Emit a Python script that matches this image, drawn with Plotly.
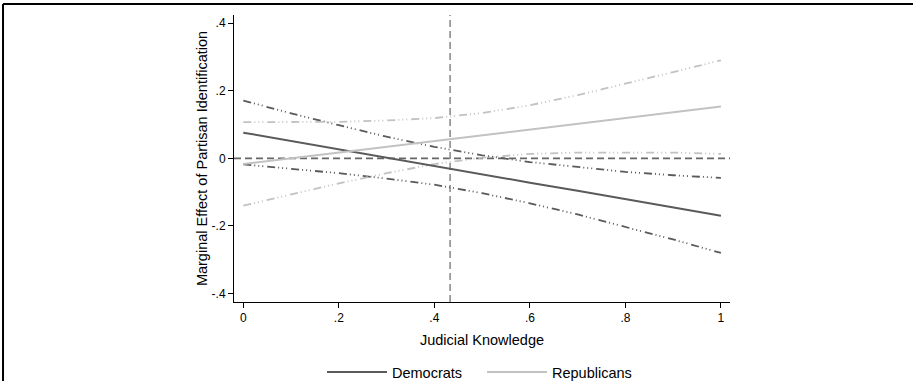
import plotly.graph_objects as go

# Judicial knowledge grid
knowledge = [0.0, 0.1, 0.2, 0.3, 0.4, 0.5, 0.6, 0.7, 0.8, 0.9, 1.0]

# Marginal effects
dem_est = [0.076, 0.051, 0.027, 0.002, -0.022, -0.047, -0.072, -0.096, -0.121, -0.145, -0.170]
dem_upper = [0.171, 0.133, 0.098, 0.064, 0.034, 0.009, -0.011, -0.026, -0.040, -0.050, -0.058]
dem_lower = [-0.018, -0.031, -0.044, -0.060, -0.078, -0.103, -0.133, -0.166, -0.202, -0.240, -0.280]

rep_est = [-0.017, 0.000, 0.017, 0.034, 0.051, 0.068, 0.085, 0.102, 0.119, 0.136, 0.153]
rep_upper = [0.107, 0.107, 0.108, 0.112, 0.119, 0.134, 0.157, 0.187, 0.220, 0.255, 0.290]
rep_lower = [-0.140, -0.107, -0.074, -0.044, -0.017, 0.002, 0.013, 0.017, 0.018, 0.017, 0.013]

mean_knowledge = 0.433

x_ticks = [0, 0.2, 0.4, 0.6, 0.8, 1]
x_tick_labels = ["0", ".2", ".4", ".6", ".8", "1"]
y_ticks = [-0.4, -0.2, 0, 0.2, 0.4]
y_tick_labels = ["-.4", "-.2", "0", ".2", ".4"]

DEM = "#5a5a5a"
REP = "#c2c2c2"
ci_dash = "8px,3px,1px,3px,1px,3px,1px,4px"

fig = go.Figure()

fig.add_trace(go.Scatter(x=knowledge, y=dem_upper, mode="lines", showlegend=False,
                         line=dict(color=DEM, width=1.8, dash=ci_dash)))
fig.add_trace(go.Scatter(x=knowledge, y=dem_lower, mode="lines", showlegend=False,
                         line=dict(color=DEM, width=1.8, dash=ci_dash)))
fig.add_trace(go.Scatter(x=knowledge, y=rep_upper, mode="lines", showlegend=False,
                         line=dict(color=REP, width=1.8, dash=ci_dash)))
fig.add_trace(go.Scatter(x=knowledge, y=rep_lower, mode="lines", showlegend=False,
                         line=dict(color=REP, width=1.8, dash=ci_dash)))
fig.add_trace(go.Scatter(x=knowledge, y=dem_est, mode="lines", name="Democrats",
                         line=dict(color=DEM, width=2)))
fig.add_trace(go.Scatter(x=knowledge, y=rep_est, mode="lines", name="Republicans",
                         line=dict(color=REP, width=2)))

font = dict(family="Arial, Liberation Sans, sans-serif", color="black")

fig.update_layout(
    width=913, height=383,
    margin=dict(l=234, r=183, t=15, b=81, autoexpand=False),
    paper_bgcolor="white", plot_bgcolor="white",
    font=dict(size=12, **font),
    showlegend=True,
    legend=dict(orientation="h", x=0.5, xanchor="center", y=-0.244, yanchor="middle",
                font=dict(size=14.5, **font), traceorder="normal",
                itemwidth=60, entrywidth=85),
    xaxis=dict(range=[-0.0195, 1.019], tickvals=x_ticks, ticktext=x_tick_labels,
               showgrid=False, zeroline=False, showline=True, linecolor="black", linewidth=1,
               ticks="outside", ticklen=5, tickcolor="black", tickfont=dict(size=12, **font),
               title=dict(text="Judicial Knowledge", font=dict(size=14.5, **font), standoff=10)),
    yaxis=dict(range=[-0.425, 0.424], tickvals=y_ticks, ticktext=y_tick_labels,
               showgrid=False, zeroline=False, showline=True, linecolor="black", linewidth=1,
               ticks="outside", ticklen=5, tickcolor="black", tickfont=dict(size=12, **font),
               title=dict(text="Marginal Effect of Partisan Identification",
                          font=dict(size=14.5, **font), standoff=0)),
)

# reference lines: zero effect and mean knowledge
fig.add_shape(type="line", xref="paper", yref="y", x0=0, x1=1, y0=0, y1=0,
              line=dict(color="#666666", width=1.6, dash="7px,4px"), layer="below")
fig.add_shape(type="line", xref="x", yref="paper", x0=mean_knowledge, x1=mean_knowledge, y0=0, y1=1,
              line=dict(color="#999999", width=1.8, dash="7px,4px"), layer="below")
# outer frame (left and top edges visible)
fig.add_shape(type="line", xref="paper", yref="paper", x0=-0.4657, x1=1.5, y0=1.038, y1=1.038,
              line=dict(color="black", width=2))
fig.add_shape(type="line", xref="paper", yref="paper", x0=-0.4657, x1=-0.4657, y0=1.038, y1=-0.275,
              line=dict(color="black", width=2))

fig.write_html("out.html", config={"displayModeBar": False},
               post_script="document.body.style.margin='0';")
